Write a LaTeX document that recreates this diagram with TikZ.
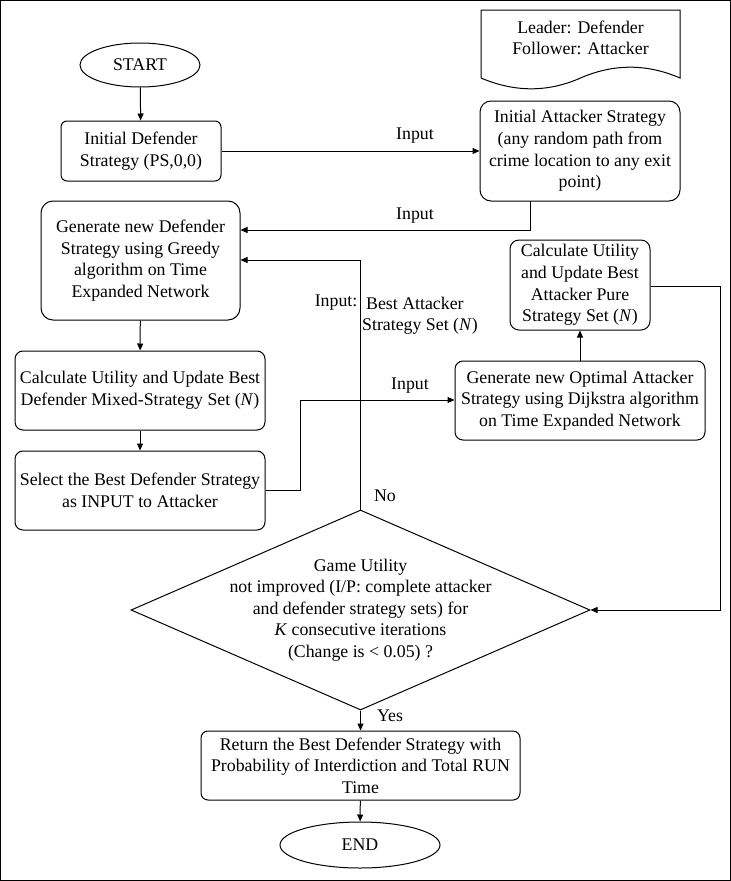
\documentclass[tikz,border=0pt]{standalone}
\usepackage{fontspec}
\setmainfont{Liberation Serif}
\usetikzlibrary{arrows.meta,shapes.geometric}
\begin{document}
\begin{tikzpicture}[x=1pt,y=-1pt,
  every node/.style={font=\fontsize{17.8}{21.6}\selectfont, align=center, inner sep=0pt},
  box/.style={draw, line width=1pt, rounded corners=#1},
  box/.default=8pt,
  term/.style={draw, line width=1pt, ellipse},
  lbl/.style={font=\fontsize{17.8}{21.6}\selectfont},
  conn/.style={line width=1pt, -{Triangle[length=7pt,width=6pt]}},
  plain/.style={line width=1pt}]
\useasboundingbox (0,0) rectangle (731,881);
\draw[line width=1pt] (0.5,0.5) rectangle (730.5,880.5);

% document shape
\draw[line width=1pt] (481,78) -- (481,10) -- (680,10) -- (680,78)
  .. controls (646.83,63.6) and (613.67,63.6) .. (580.5,78)
  .. controls (548,92.4) and (514.83,92.4) .. (481,78);
\node (doc) at (580.5,38) {Leader: Defender\\Follower: Attacker};

\node[term, minimum width=120pt, minimum height=44pt] (start) at (140,65) {START};
\node[box=6pt, minimum width=160pt, minimum height=60pt] (idef) at (141,151) {Initial Defender\\Strategy (PS,0,0)};
\node[box=11pt, minimum width=200pt, minimum height=100pt] (iatt) at (580,151) {Initial Attacker Strategy\\(any random path from\\crime location to any exit\\point)};
\node[box=12pt, minimum width=199pt, minimum height=119pt] (gdef) at (140.5,260.5) {Generate new Defender\\Strategy using Greedy\\algorithm on Time\\Expanded Network};
\node[box=8pt, minimum width=250pt, minimum height=79pt] (cdef) at (140,390.5) {Calculate Utility and Update Best\\Defender Mixed-Strategy Set (\textit{N})};
\node[box=8pt, minimum width=250pt, minimum height=79pt] (sel) at (140,490.5) {Select the Best Defender Strategy\\as INPUT to Attacker};
\node[box=8pt, minimum width=250pt, minimum height=79pt] (gatt) at (580,400.5) {Generate new Optimal Attacker\\Strategy using Dijkstra algorithm\\on Time Expanded Network};
\node[box=9pt, minimum width=140pt, minimum height=90pt] (catt) at (580,285) {Calculate Utility\\and Update Best\\Attacker Pure\\Strategy Set (\textit{N})};
\node[draw, line width=1pt, diamond, minimum width=459pt, minimum height=200pt, aspect=2.3] (dia) at (360.5,610) {};
\node (diatext) at (360.5,610) {Game Utility\\not improved (I/P: complete attacker\\and defender strategy sets) for\\\textit{K} consecutive iterations\\(Change is < 0.05) ?};
\node[box=7pt, minimum width=319pt, minimum height=69pt] (ret) at (360.5,765.5) {Return the Best Defender Strategy with\\Probability of Interdiction and Total RUN\\Time};
\node[term, minimum width=160pt, minimum height=46pt] (end) at (360,845) {END};

% connectors
\draw[conn] (start) -- (idef);
\draw[conn] (idef) -- (iatt);
\node[lbl] (l1) at (415,136) {Input};
\coordinate (a1) at (530,201);
\coordinate (a2) at (530,230);
\draw[conn] (a1) -- (a2) -- (gdef.east |- a2);
\node[lbl] (l2) at (415,216) {Input};
\draw[conn] (gdef) -- (cdef);
\draw[conn] (cdef) -- (sel);
\coordinate (b1) at (300,490);
\coordinate (b2) at (300,400);
\draw[conn] (sel.east |- b1) -- (b1) -- (b2) -- (gatt.west |- b2);
\node[lbl] (l3) at (410,386) {Input};
\draw[conn] (gatt.north) -- (catt.south);
\coordinate (c1) at (720,286);
\coordinate (c2) at (720,610);
\draw[conn] (catt.east |- c1) -- (c1) -- (c2) -- (dia.east);
\coordinate (d1) at (360.5,260);
\draw[conn] (dia.north) -- (d1) -- (gdef.east |- d1);
\node[lbl, anchor=east] (l4a) at (357.5,303) {Input:};
\node[lbl, anchor=west] (l4b) at (366,303) {Best Attacker};
\node[lbl, anchor=west] (l4c) at (362,326) {Strategy Set (\textit{N})};
\node[lbl] (l5) at (385,496) {No};
\draw[conn] (dia.south) -- (ret.north);
\node[lbl] (l6) at (390,716) {Yes};
\draw[conn] (ret) -- (end);
\end{tikzpicture}
\end{document}
